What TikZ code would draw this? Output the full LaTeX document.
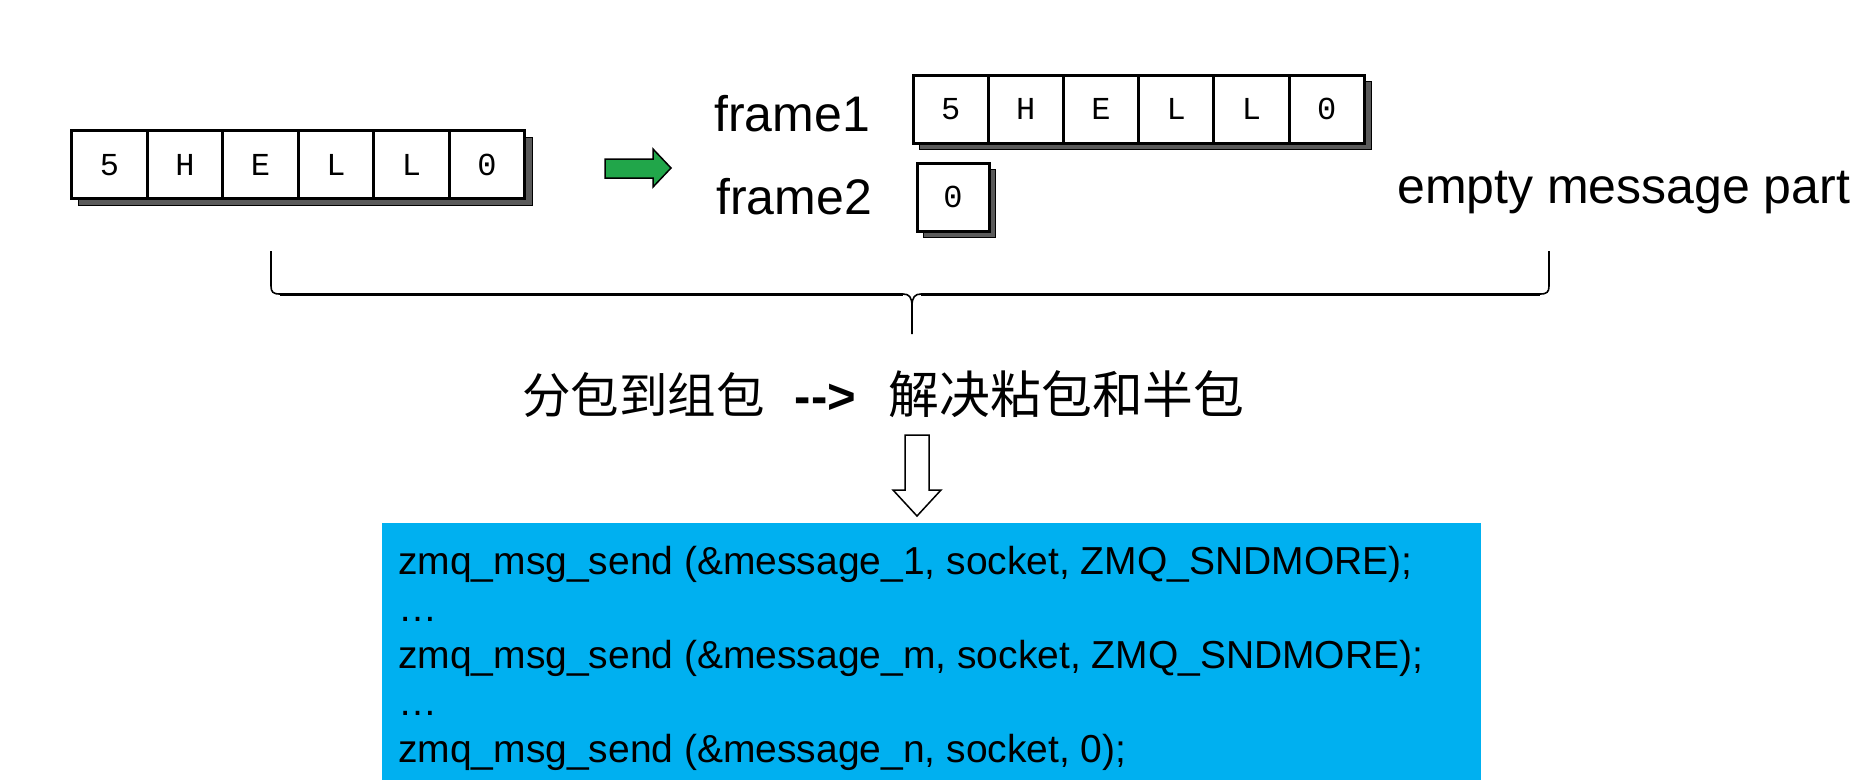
\documentclass[tikz,border=0pt]{standalone}
\usepackage{fontspec}
\setmainfont{Liberation Sans}
\newfontfamily\cjk{Noto Sans CJK SC}
\newfontfamily\monof{Liberation Mono}
\definecolor{boxblue}{HTML}{00B0F0}
\definecolor{arrgreen}{HTML}{21A64A}
\definecolor{shadowgray}{HTML}{5A5A5A}
\begin{document}
\begin{tikzpicture}[x=1pt,y=-1pt,
  cell/.style={draw=black,line width=3pt,fill=white,minimum width=75.5pt,minimum height=68pt,inner sep=0pt,
    font=\monof\fontsize{32}{32}\selectfont},
  shadowbox/.style={fill=shadowgray,draw=black,line width=1pt},
  label/.style={font=\fontsize{50}{60}\selectfont,inner sep=0pt},
  codeline/.style={anchor=base west,inner sep=0pt,font=\fontsize{39}{47}\selectfont},
  bracearm/.style={line width=1.6pt},
  bracebar/.style={line width=3pt},
  hollowarrow/.style={draw=black,line width=1.5pt,fill=white},
  greenarrow/.style={draw=black,line width=1.5pt,fill=arrgreen}]
\useasboundingbox (0,0) rectangle (1872,780);

% left message
\path[shadowbox] (78,137) rectangle (532,205);
\foreach \t [count=\i] in {5,H,E,L,L,0}
  \node[cell] (a\i) at ({109.5+(\i-1)*75.5},164.7) {\t};

% green arrow
\draw[greenarrow] (605,159) -- (653,159) -- (653,149) -- (671,168) -- (653,187) -- (653,178) -- (605,178) -- cycle;

% frame labels
\node[label,anchor=base west] (f1) at (714,131) {frame1};
\node[label,anchor=base west] (f2) at (716,214) {frame2};

% frame1 cells
\path[shadowbox] (919,81) rectangle (1371,149);
\foreach \t [count=\i] in {5,H,E,L,L,0}
  \node[cell,minimum width=75.2pt] (b\i) at ({950.6+(\i-1)*75.2},109) {\t};

% frame2 cell
\path[shadowbox] (923,169) rectangle (995,237);
\node[cell,minimum width=72pt] (c1) at (953,197) {0};

\node[label,anchor=base west] (emp) at (1397,203) {empty message part};

% brace
\coordinate (bl) at (271,251);
\coordinate (br) at (1549,251);
\coordinate (bt) at (912,334);
\draw[bracearm] (bl) -- (271,286) .. controls (271,292) and (273,294) .. (280,294);
\draw[bracearm] (br) -- (1549,286) .. controls (1549,292) and (1547,294) .. (1540,294);
\draw[bracebar] (280,294) -- (903,294);
\draw[bracebar] (921,294) -- (1540,294);
\draw[bracearm] (903,294) .. controls (909,294) and (912,297) .. (912,306) -- (bt);
\draw[bracearm] (921,294) .. controls (915,294) and (912,297) .. (912,306);

% chinese caption
\node[inner sep=0pt,anchor=west,font=\fontsize{49}{60}\selectfont] (cap) at (522,394)
  {{\cjk\fontsize{48.5}{60}\selectfont 分包到组包}\hspace{30pt}{\bfseries -{}-{}>}\hspace{33pt}{\cjk\fontsize{50.8}{60}\selectfont 解决粘包和半包}};

% hollow arrow
\draw[hollowarrow] (905,435) -- (929,435) -- (929,490) -- (941,490) -- (917,516) -- (893,490) -- (905,490) -- cycle;

% code box
\fill[boxblue] (382,523) rectangle (1481,780);
\node[codeline] (l1) at (398,574) {zmq\_msg\_send (\&message\_1, socket, ZMQ\_SNDMORE);};
\node[codeline] (l2) at (398,621) {…};
\node[codeline] (l3) at (398,668) {zmq\_msg\_send (\&message\_m, socket, ZMQ\_SNDMORE);};
\node[codeline] (l4) at (398,715) {…};
\node[codeline] (l5) at (398,762) {zmq\_msg\_send (\&message\_n, socket, 0);};
\end{tikzpicture}
\end{document}
